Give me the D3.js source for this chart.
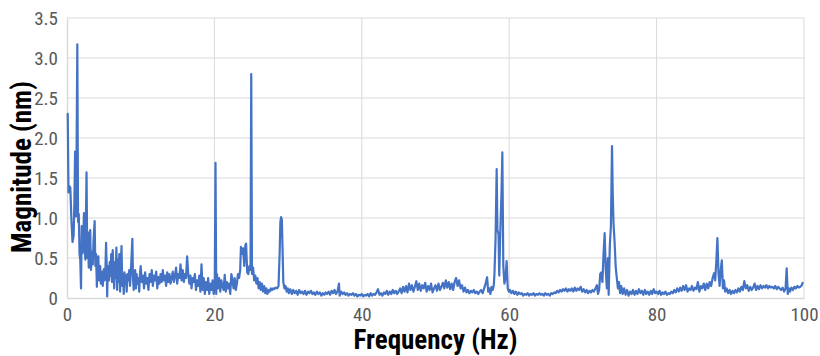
<!DOCTYPE html>
<html><head><meta charset="utf-8">
<script src="https://cdn.jsdelivr.net/npm/d3@7/dist/d3.min.js"></script>
<style>
html,body{margin:0;padding:0;background:#fff;}
svg{display:block;}
.tick text{font-family:"Liberation Sans Narrow","Roboto Condensed","Liberation Sans",sans-serif;}
</style></head>
<body>
<svg id="chart" width="820" height="356"></svg>
<script>
const freqHz = [
0.0,0.1,0.2,0.3,0.45,0.6,0.75,0.9,1.0,1.1,1.2,1.3,1.4,1.5,1.6,1.7,1.8,1.9,2.0,2.1,2.2,2.3,2.4,2.5,2.65,2.75,2.85,2.95,3.05,3.15,3.25,3.4,3.5,3.6,3.75,3.85,3.95,4.05,4.15,4.25,4.35,4.5,4.6,4.75,4.85,5.0,5.1,5.2,5.3,5.4,5.45,5.55,5.7,5.8,5.9,6.0,6.1,6.2,6.3,6.4,6.5,6.6,6.7,6.8,6.9,7.0,7.1,7.2,7.3,7.4,7.5,7.6,7.7,7.8,7.9,8.0,8.1,8.2,8.3,8.45,8.55,8.7,8.87,8.95,9.05,9.15,9.25,9.35,9.45,9.55,9.7,9.8,9.9,
10.0,10.15,10.3,10.45,10.6,10.75,10.9,11.05,11.2,11.35,11.5,11.65,11.8,11.95,12.1,12.25,12.4,12.55,12.7,12.85,13.0,13.15,13.3,13.45,13.6,13.75,13.9,14.05,14.2,14.35,14.5,14.65,14.8,14.95,15.1,15.25,15.4,15.55,15.7,15.85,16.0,16.15,16.3,16.45,16.6,16.75,16.9,17.05,17.2,17.35,17.5,17.65,17.8,17.95,18.1,18.25,18.4,18.55,18.7,18.85,19.0,19.15,19.3,19.45,19.6,19.75,19.9,20.05,20.15,20.25,20.35,20.5,20.65,20.8,20.95,21.1,21.25,21.4,21.55,21.7,21.85,22.0,22.15,22.3,22.45,22.6,22.75,22.9,23.05,23.2,23.35,23.5,23.6,23.75,23.9,24.05,24.2,24.3,24.45,24.6,24.75,24.9,25.0,25.1,25.25,25.4,25.55,25.7,25.85,26.0,26.15,26.3,26.45,26.6,26.75,26.9,27.05,27.2,27.35,27.5,27.65,27.8,27.95,28.1,28.3,28.5,28.7,28.85,28.95,29.05,29.15,29.25,29.35,29.5,29.65,29.8,29.95,
30.1,30.3,30.5,30.7,30.9,31.1,31.3,31.5,31.7,31.9,32.1,32.3,32.5,32.7,32.9,33.1,33.3,33.5,33.7,33.9,34.1,34.3,34.5,34.7,34.9,35.1,35.3,35.5,35.7,35.9,36.1,36.3,36.5,36.7,36.9,37.0,37.2,37.4,37.6,37.8,38.0,38.2,38.4,38.6,38.8,39.0,39.2,39.4,39.6,39.8,40.0,40.2,40.4,40.6,40.8,41.0,41.2,41.4,41.6,41.8,42.0,42.2,42.4,42.6,42.8,43.0,43.2,43.4,43.6,43.8,44.0,44.2,44.4,44.6,44.8,45.0,45.2,45.4,45.6,45.8,46.0,46.2,46.4,46.6,46.8,47.0,47.2,47.4,47.6,47.8,48.0,48.2,48.4,48.6,48.8,49.0,49.2,49.4,49.6,49.8,50.0,50.2,50.4,50.6,50.8,51.0,51.2,51.4,51.6,51.8,52.0,52.2,52.4,52.6,52.8,53.0,53.2,53.4,53.6,53.8,54.0,54.2,54.4,54.6,54.8,55.0,55.2,55.4,55.6,55.8,56.0,56.2,56.4,56.6,56.8,57.0,57.15,57.3,57.45,57.6,57.75,57.9,58.0,58.15,58.3,58.4,58.55,58.65,58.8,58.95,59.07,59.2,59.35,59.5,59.65,59.8,59.95,
60.1,60.3,60.5,60.7,60.9,61.1,61.3,61.5,61.7,61.9,62.1,62.3,62.5,62.7,62.9,63.1,63.3,63.5,63.7,63.9,64.1,64.3,64.5,64.7,64.9,65.1,65.3,65.5,65.7,65.9,66.1,66.3,66.5,66.7,66.9,67.1,67.3,67.5,67.7,67.9,68.1,68.3,68.5,68.7,68.9,69.1,69.3,69.5,69.7,69.9,70.1,70.3,70.5,70.7,70.9,71.1,71.3,71.5,71.7,71.9,72.05,72.2,72.35,72.5,72.65,72.8,72.95,73.1,73.25,73.4,73.5,73.65,73.8,73.95,74.05,74.15,74.3,74.45,74.6,74.75,74.9,75.05,75.2,75.4,75.6,75.8,76.0,76.2,76.4,76.6,76.8,77.0,77.2,77.4,77.6,77.8,78.0,78.2,78.4,78.6,78.8,79.0,79.2,79.4,79.6,79.8,
80.0,80.2,80.4,80.6,80.8,81.0,81.2,81.4,81.6,81.8,82.0,82.2,82.4,82.6,82.8,83.0,83.2,83.4,83.6,83.8,84.0,84.2,84.4,84.6,84.8,85.0,85.2,85.4,85.6,85.8,86.0,86.2,86.4,86.6,86.8,87.0,87.2,87.4,87.6,87.8,87.95,88.1,88.25,88.4,88.55,88.7,88.85,89.0,89.15,89.3,89.5,89.7,89.9,90.1,90.3,90.5,90.7,90.9,91.1,91.3,91.5,91.7,91.9,92.1,92.3,92.5,92.7,92.9,93.1,93.3,93.5,93.7,93.9,94.1,94.3,94.5,94.7,94.9,95.1,95.3,95.5,95.7,95.9,96.1,96.3,96.5,96.7,96.9,97.1,97.3,97.5,97.65,97.8,97.95,98.1,98.3,98.5,98.7,98.9,99.1,99.3,99.5,99.7,99.85
];
const magnitudeNm = [
2.31,2.30,1.32,1.40,1.38,0.98,0.70,0.78,1.20,1.83,1.02,1.85,3.17,0.95,1.05,0.55,0.48,0.12,0.90,0.56,0.70,1.06,0.60,0.48,1.57,0.50,0.82,0.38,0.62,0.85,0.35,0.58,0.42,0.72,0.96,0.40,0.55,0.14,0.48,0.52,0.22,0.40,0.18,0.33,0.15,0.36,0.22,0.30,0.69,0.35,0.02,0.40,0.22,0.45,0.28,0.55,0.20,0.60,0.35,0.12,0.45,0.25,0.63,0.10,0.48,0.20,0.55,0.08,0.40,0.65,0.15,0.30,0.05,0.32,0.18,0.28,0.08,0.30,0.22,0.35,0.15,0.40,0.74,0.25,0.10,0.28,0.35,0.12,0.30,0.18,0.25,0.08,0.30,
0.40,0.20,0.28,0.12,0.32,0.18,0.25,0.10,0.30,0.20,0.35,0.15,0.28,0.22,0.33,0.12,0.26,0.18,0.30,0.20,0.35,0.22,0.28,0.15,0.32,0.20,0.30,0.18,0.25,0.33,0.20,0.28,0.38,0.18,0.30,0.25,0.42,0.22,0.35,0.20,0.30,0.25,0.52,0.30,0.18,0.28,0.12,0.25,0.20,0.30,0.10,0.22,0.15,0.28,0.08,0.42,0.10,0.25,0.05,0.20,0.10,0.25,0.05,0.18,0.10,0.22,0.05,0.15,1.69,0.05,0.30,0.12,0.25,0.08,0.22,0.15,0.10,0.29,0.08,0.20,0.12,0.18,0.05,0.30,0.22,0.12,0.25,0.10,0.18,0.30,0.25,0.35,0.64,0.55,0.62,0.40,0.66,0.68,0.32,0.30,0.40,0.35,2.80,0.30,0.38,0.22,0.28,0.18,0.25,0.12,0.20,0.10,0.18,0.08,0.15,0.06,0.12,0.05,0.10,0.08,0.12,0.10,0.12,0.11,0.13,0.12,0.15,0.55,0.95,1.01,0.98,0.60,0.20,0.12,0.15,0.08,0.12,
0.06,0.11,0.05,0.10,0.06,0.09,0.04,0.10,0.06,0.08,0.05,0.09,0.04,0.08,0.06,0.09,0.05,0.07,0.04,0.08,0.05,0.07,0.03,0.06,0.04,0.07,0.05,0.08,0.04,0.09,0.06,0.10,0.05,0.08,0.18,0.03,0.08,0.05,0.07,0.04,0.06,0.03,0.05,0.04,0.06,0.03,0.05,0.02,0.04,0.03,0.05,0.02,0.04,0.03,0.05,0.02,0.06,0.03,0.05,0.04,0.07,0.11,0.04,0.06,0.03,0.07,0.05,0.09,0.04,0.08,0.05,0.10,0.06,0.09,0.05,0.08,0.12,0.06,0.14,0.08,0.15,0.07,0.18,0.10,0.16,0.08,0.14,0.21,0.10,0.18,0.09,0.16,0.12,0.19,0.08,0.15,0.10,0.18,0.07,0.12,0.16,0.09,0.18,0.10,0.14,0.19,0.12,0.22,0.13,0.20,0.11,0.18,0.10,0.20,0.25,0.15,0.22,0.12,0.16,0.08,0.13,0.07,0.10,0.06,0.09,0.07,0.10,0.06,0.08,0.05,0.08,0.10,0.06,0.12,0.18,0.26,0.08,0.12,0.05,0.14,0.10,0.15,0.30,0.75,1.61,0.85,0.80,0.28,0.85,1.30,1.82,0.40,0.18,0.25,0.46,0.12,0.08,
0.10,0.06,0.09,0.05,0.08,0.04,0.07,0.05,0.06,0.03,0.05,0.04,0.06,0.03,0.05,0.04,0.06,0.03,0.05,0.04,0.06,0.04,0.05,0.03,0.06,0.04,0.05,0.03,0.06,0.05,0.07,0.06,0.09,0.07,0.10,0.08,0.11,0.09,0.12,0.08,0.11,0.09,0.12,0.08,0.13,0.09,0.12,0.10,0.14,0.08,0.11,0.07,0.10,0.06,0.09,0.07,0.10,0.08,0.12,0.16,0.05,0.10,0.30,0.32,0.20,0.55,0.81,0.35,0.12,0.50,0.04,0.65,0.90,1.90,1.30,0.94,0.70,0.39,0.25,0.12,0.20,0.06,0.15,0.05,0.12,0.04,0.10,0.03,0.08,0.05,0.10,0.04,0.09,0.05,0.11,0.06,0.09,0.04,0.10,0.05,0.08,0.04,0.09,0.05,0.11,0.06,
0.08,0.05,0.09,0.04,0.07,0.05,0.08,0.04,0.06,0.05,0.08,0.06,0.10,0.07,0.12,0.08,0.13,0.09,0.15,0.10,0.16,0.08,0.12,0.10,0.15,0.09,0.13,0.11,0.20,0.08,0.15,0.12,0.18,0.10,0.18,0.12,0.20,0.15,0.25,0.31,0.22,0.45,0.75,0.30,0.15,0.35,0.47,0.12,0.22,0.08,0.12,0.06,0.10,0.05,0.09,0.06,0.10,0.07,0.12,0.08,0.14,0.10,0.21,0.12,0.16,0.09,0.14,0.10,0.13,0.18,0.10,0.15,0.11,0.16,0.12,0.15,0.13,0.16,0.12,0.15,0.13,0.14,0.12,0.15,0.11,0.14,0.12,0.10,0.13,0.08,0.12,0.37,0.05,0.12,0.08,0.13,0.10,0.14,0.12,0.15,0.13,0.14,0.16,0.20
];
const xTicks = [0,20,40,60,80,100];
const yTicks = [0,0.5,1.0,1.5,2.0,2.5,3.0,3.5];
const yTickLabels = ["0","0.5","1.0","1.5","2.0","2.5","3.0","3.5"];
const xTitle = "Frequency (Hz)";
const yTitle = "Magnitude (nm)";

const svg = d3.select("#chart");
const m = {left:67, right:16, top:18, bottom:58};
const W = 820, H = 356;
const x = d3.scaleLinear().domain([0,100]).range([m.left, W - m.right]);
const y = d3.scaleLinear().domain([0,3.5]).range([H - m.bottom, m.top]);

// grid
svg.append("g").selectAll("line").data(yTicks.slice(1)).join("line")
  .attr("x1", x(0)).attr("x2", x(100)).attr("y1", d=>y(d)).attr("y2", d=>y(d))
  .attr("stroke","#d9d9d9").attr("stroke-width",1);
svg.append("g").selectAll("line").data(xTicks.slice(1)).join("line")
  .attr("y1", y(0)).attr("y2", y(3.5)).attr("x1", d=>x(d)).attr("x2", d=>x(d))
  .attr("stroke","#d9d9d9").attr("stroke-width",1);

// axes
const xAxis = svg.append("g").attr("transform",`translate(0,${y(0)})`)
  .call(d3.axisBottom(x).tickValues(xTicks).tickSize(0).tickPadding(9).tickFormat(d3.format("d")));
const yAxis = svg.append("g").attr("transform",`translate(${x(0)},0)`)
  .call(d3.axisLeft(y).tickValues(yTicks).tickSize(0).tickPadding(9).tickFormat((d,i)=>yTickLabels[i]));
[xAxis,yAxis].forEach(g=>{
  g.select(".domain").attr("stroke","#d9d9d9").attr("stroke-width",1.5);
  g.selectAll(".tick text").attr("fill","#595959").attr("font-size",19);
});
xAxis.selectAll(".tick text").attr("dy","0.75em");

// line
const pts = freqHz.map((f,i)=>[f, magnitudeNm[i]]);
svg.append("path").datum(pts)
  .attr("fill","none").attr("stroke","#4472C4").attr("stroke-width",2.2)
  .attr("stroke-linejoin","round")
  .attr("d", d3.line().x(d=>x(d[0])).y(d=>y(d[1])));

// titles
svg.append("text").attr("x", x(50)).attr("y", 349)
  .attr("text-anchor","middle")
  .attr("font-family","'Liberation Sans Narrow','Roboto Condensed','Liberation Sans',sans-serif")
  .attr("font-weight","bold").attr("font-size",27).attr("fill","#000").text(xTitle);
svg.append("text").attr("transform","translate(31,167) rotate(-90)")
  .attr("text-anchor","middle")
  .attr("font-family","'Liberation Sans Narrow','Roboto Condensed','Liberation Sans',sans-serif")
  .attr("font-weight","bold").attr("font-size",27).attr("fill","#000").text(yTitle);
</script>
</body></html>
